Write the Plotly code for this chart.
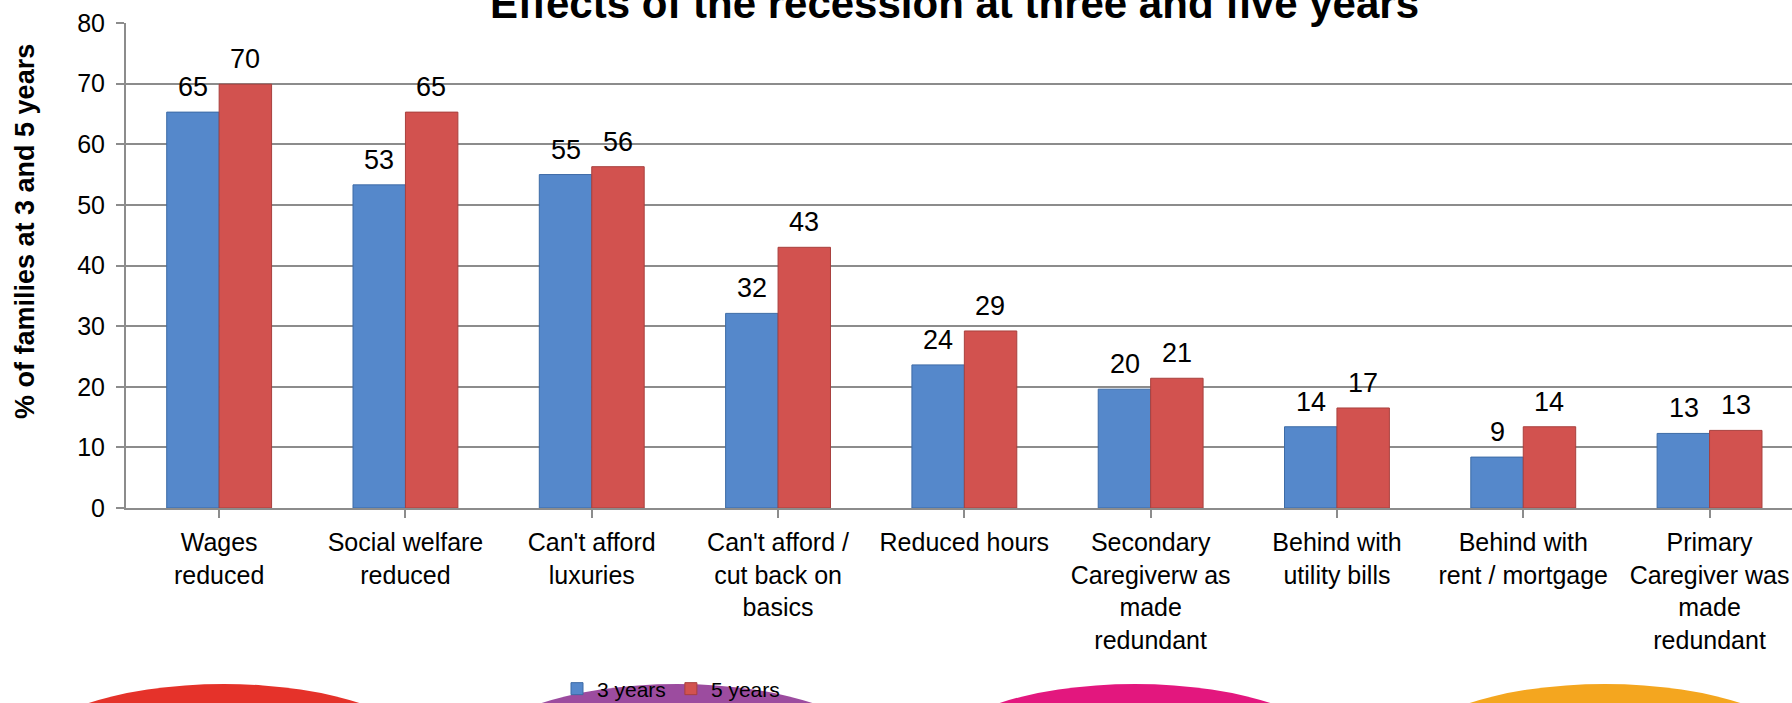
import plotly.graph_objects as go

# ---- data ----
categories = [
    "Wages<br>reduced",
    "Social welfare<br>reduced",
    "Can't afford<br>luxuries",
    "Can't afford /<br>cut back on<br>basics",
    "Reduced hours",
    "Secondary<br>Caregiverw as<br>made<br>redundant",
    "Behind with<br>utility bills",
    "Behind with<br>rent / mortgage",
    "Primary<br>Caregiver was<br>made<br>redundant",
]
values_3y = [65.3, 53.3, 55.0, 32.1, 23.6, 19.6, 13.4, 8.4, 12.3]
values_5y = [69.9, 65.3, 56.3, 43.0, 29.2, 21.4, 16.5, 13.4, 12.8]
labels_3y = ["65", "53", "55", "32", "24", "20", "14", "9", "13"]
labels_5y = ["70", "65", "56", "43", "29", "21", "17", "14", "13"]
y_ticks = [0, 10, 20, 30, 40, 50, 60, 70, 80]
series_names = ["3 years", "5 years"]

title_text = "Effects of the recession at three and five years"
y_title = "% of families at 3 and 5 years"

# ---- layout geometry ----
W, H = 1792, 703
L, R, T, B = 126, 0, 23, 195
plot_w = W - L - R
plot_h = H - T - B
cat_px = 186.3


def px_x(px):
    return (px - L) / plot_w


def px_y(py):
    return (H - B - py) / plot_h


FONT = "Liberation Sans, Arial, sans-serif"
BLUE = "#5588CB"
RED = "#D2524F"

fig = go.Figure()
fig.add_trace(go.Bar(
    x=list(range(len(categories))), y=values_3y, name=series_names[0],
    marker=dict(color=BLUE, line=dict(color="#3D6BA6", width=1)),
))
fig.add_trace(go.Bar(
    x=list(range(len(categories))), y=values_5y, name=series_names[1],
    marker=dict(color=RED, line=dict(color="#A8403E", width=1)),
))

annotations = []
for i, (v3, v5, t3, t5) in enumerate(zip(values_3y, values_5y, labels_3y, labels_5y)):
    for v, t, sh in ((v3, t3, -26), (v5, t5, 26)):
        annotations.append(dict(
            x=i, y=v, xref="x", yref="y", text=t, showarrow=False,
            xshift=sh, yshift=25, yanchor="middle", xanchor="center",
            font=dict(family=FONT, size=27, color="black"),
        ))

# title (clipped at top as in the reference)
annotations.append(dict(
    x=px_x(954), y=px_y(29), xref="paper", yref="paper", text="<b>" + title_text + "</b>",
    showarrow=False, xanchor="center", yanchor="bottom",
    font=dict(family=FONT, size=42, color="black"),
))
# y axis title
annotations.append(dict(
    x=px_x(25), y=px_y(232), xref="paper", yref="paper", text="<b>" + y_title + "</b>",
    showarrow=False, xanchor="center", yanchor="middle", textangle=-90,
    font=dict(family=FONT, size=27, color="black"),
))

# decorative slide arcs at the bottom
arc_defs = [(224, "#E5322A"), (677, "#9C4C9F"), (1135, "#E3177E"), (1605, "#F4A61F")]
shapes = []
for cx, col in arc_defs:
    shapes.append(dict(
        type="circle", xref="paper", yref="paper", layer="below",
        x0=px_x(cx - 200), x1=px_x(cx + 200), y0=px_y(684), y1=px_y(828),
        fillcolor=col, line=dict(width=0),
    ))

fig.update_layout(
    width=W, height=H,
    margin=dict(l=L, r=R, t=T, b=B, pad=0, autoexpand=False),
    paper_bgcolor="white", plot_bgcolor="white",
    barmode="group", bargap=0.437, bargroupgap=0,
    font=dict(family=FONT, color="black"),
    showlegend=True,
    legend=dict(
        orientation="h", x=px_x(671), y=px_y(689), xanchor="center", yanchor="middle",
        font=dict(family=FONT, size=21, color="black"), bgcolor="rgba(0,0,0,0)",
        itemwidth=30, tracegroupgap=0,
    ),
    annotations=annotations,
    shapes=shapes,
)

fig.update_xaxes(
    range=[-0.5, -0.5 + plot_w / cat_px],
    tickmode="array", tickvals=list(range(len(categories))), ticktext=categories,
    tickson="boundaries", ticks="outside", ticklen=8, tickcolor="#8C8C8C", tickwidth=2,
    showline=True, linecolor="#8C8C8C", linewidth=2,
    showgrid=False, zeroline=False,
    tickfont=dict(family=FONT, size=25, color="black"),
    ticklabelstandoff=3, automargin=False,
)
fig.update_yaxes(
    range=[0, 80], tickmode="array", tickvals=y_ticks,
    ticks="outside", ticklen=8, tickcolor="#8C8C8C", tickwidth=2,
    showline=True, linecolor="#8C8C8C", linewidth=2,
    showgrid=True, gridcolor="#8C8C8C", gridwidth=2,
    zeroline=False,
    tickfont=dict(family=FONT, size=25, color="black"),
    ticklabelstandoff=6, automargin=False,
)

fig.write_html("out.html")
